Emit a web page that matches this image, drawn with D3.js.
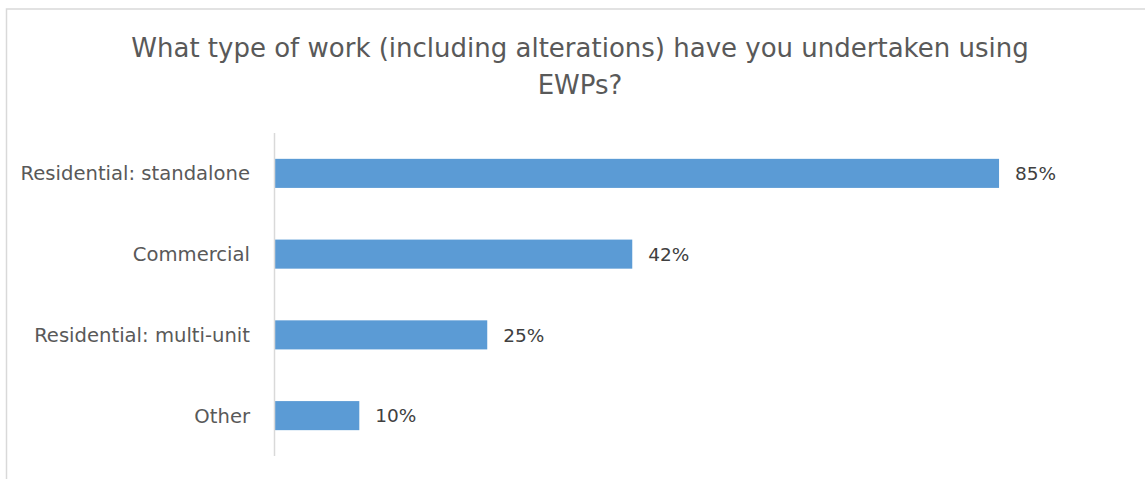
<!DOCTYPE html>
<html>
<head>
<meta charset="utf-8">
<script src="https://cdn.jsdelivr.net/npm/d3@7"></script>
<style>
  html, body { margin: 0; padding: 0; background: #fff; }
  svg { display: block; }
</style>
</head>
<body>
<svg id="chart" width="1145" height="479"></svg>
<script>
// Survey responses: share of respondents per type of work
const categories = ["Residential: standalone", "Commercial", "Residential: multi-unit", "Other"];
const values = [85, 42, 25, 10];
const valueLabels = ["85%", "42%", "25%", "10%"];
const titleLines = ["What type of work (including alterations) have you undertaken using", "EWPs?"];

const svg = d3.select("#chart");
const W = 1145, H = 479;

// chart frame
svg.append("rect")
  .attr("x", 6.5).attr("y", 9)
  .attr("width", W + 20).attr("height", H + 20)
  .attr("fill", "#fff")
  .attr("stroke", "#d9d9d9")
  .attr("stroke-width", 1.5);

// title
const title = svg.append("text")
  .attr("text-anchor", "middle")
  .attr("font-family", "DejaVu Sans, Verdana, sans-serif")
  .attr("font-size", 26)
  .attr("fill", "#595959");
title.selectAll("tspan")
  .data(titleLines)
  .join("tspan")
  .attr("x", 580)
  .attr("y", (d, i) => 57 + i * 37)
  .text(d => d);

// scales
const x = d3.scaleLinear().domain([0, 100]).range([274, 1127]);
const y = d3.scaleBand()
  .domain(categories)
  .range([133, 456])
  .paddingInner(0.64)
  .paddingOuter(0.32);

// bars
svg.append("g")
  .selectAll("rect")
  .data(values)
  .join("rect")
  .attr("x", x(0))
  .attr("y", (d, i) => y(categories[i]))
  .attr("width", d => x(d) - x(0))
  .attr("height", y.bandwidth())
  .attr("fill", "#5b9bd5");

// category axis (line only, no ticks)
const yAxis = svg.append("g")
  .attr("transform", `translate(${x(0)},0)`)
  .call(d3.axisLeft(y).tickSize(0).tickPadding(24));
yAxis.select(".domain")
  .attr("d", `M0.5,${y.range()[0]}V${y.range()[1]}`)
  .attr("stroke", "#d9d9d9")
  .attr("stroke-width", 1.5);
yAxis.selectAll("text")
  .attr("font-family", "DejaVu Sans, Verdana, sans-serif")
  .attr("font-size", 19.6)
  .attr("fill", "#595959")
  .attr("dy", "0.36em");

// value labels
svg.append("g")
  .selectAll("text")
  .data(values)
  .join("text")
  .attr("x", d => x(d) + 16)
  .attr("y", (d, i) => y(categories[i]) + y.bandwidth() / 2)
  .attr("dy", "0.36em")
  .attr("font-family", "DejaVu Sans, Verdana, sans-serif")
  .attr("font-size", 18.5)
  .attr("fill", "#404040")
  .text((d, i) => valueLabels[i]);
</script>
</body>
</html>
